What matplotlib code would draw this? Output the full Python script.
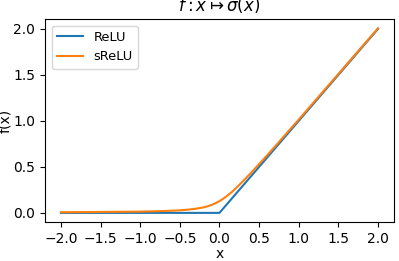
import numpy as np
import matplotlib
matplotlib.use("Agg")
import matplotlib.pyplot as plt

# x positions and values
x_relu = [-2.0, 0.0, 2.0]
y_relu = [0.0, 0.0, 2.0]

x_srelu = [-2.0, -1.5, -1.0, -0.9, -0.8, -0.7, -0.6, -0.5, -0.4, -0.3, -0.2, -0.15, -0.1, -0.05,
           0.0, 0.05, 0.1, 0.15, 0.2, 0.3, 0.4, 0.5, 0.6, 0.7, 0.8, 0.9, 1.0, 1.5, 2.0]
y_srelu = [0.007, 0.010, 0.014, 0.016, 0.018, 0.020, 0.023, 0.028, 0.035, 0.045, 0.060, 0.071, 0.086, 0.105,
           0.128, 0.155, 0.188, 0.222, 0.262, 0.347, 0.437, 0.530, 0.625, 0.721, 0.819, 0.917, 1.014, 1.510, 2.007]
x_ticks = [-2.0, -1.5, -1.0, -0.5, 0.0, 0.5, 1.0, 1.5, 2.0]

fig, ax = plt.subplots(figsize=(3.99, 2.61), dpi=100)
fig.subplots_adjust(left=0.113, right=0.987, top=0.927, bottom=0.149)

ax.plot(x_relu, y_relu, label="ReLU")
ax.plot(x_srelu, y_srelu, label="sReLU")
ax.set_xticks(x_ticks)
ax.set_title(r"$f: x \mapsto \sigma(x)$")
ax.set_xlabel("x", labelpad=1)
ax.set_ylabel("f(x)", labelpad=1)
ax.legend(loc="upper left", fontsize=9.4)

fig.savefig("out.png")
